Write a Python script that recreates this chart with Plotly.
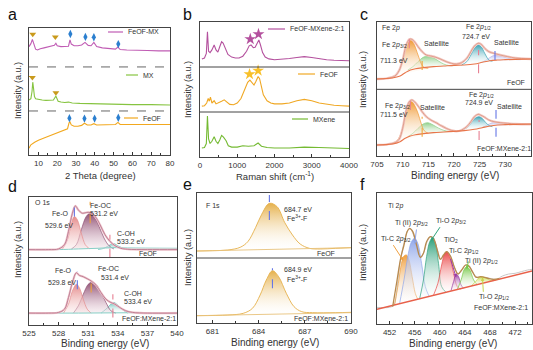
import plotly.graph_objects as go

# ======================= DATA =======================
# (a) XRD, 2-theta (degree) vs offset intensity (a.u.)
xrd_feof_x = [5, 6, 8, 10, 13, 16, 19, 22, 24, 25.5, 26.3, 26.8, 27.5, 29, 31, 33, 34.5, 36, 38, 39.5, 41, 44, 48, 51, 52.3, 53.5, 56, 60, 65, 70, 75, 80]
xrd_feof_y = [0.16, 0.24, 0.30, 0.35, 0.40, 0.45, 0.50, 0.55, 0.58, 0.62, 0.76, 0.78, 0.71, 0.68, 0.68, 0.70, 0.75, 0.71, 0.71, 0.74, 0.71, 0.71, 0.71, 0.72, 0.77, 0.72, 0.72, 0.72, 0.72, 0.72, 0.72, 0.72]
xrd_mx_x = [5, 6, 6.6, 7, 7.4, 7.9, 8.5, 10, 12, 14, 16, 18, 18.8, 19.3, 19.8, 20.5, 22, 24, 26, 28, 32, 40, 50, 60, 70, 80]
xrd_mx_y = [1.30, 1.33, 1.50, 1.72, 1.58, 1.38, 1.33, 1.31, 1.30, 1.29, 1.29, 1.30, 1.36, 1.39, 1.34, 1.27, 1.25, 1.24, 1.25, 1.23, 1.22, 1.21, 1.20, 1.19, 1.19, 1.18]
xrd_mix_x = [5, 6, 6.8, 7.5, 8.5, 9.5, 11, 13, 15, 17, 18.5, 19.3, 20, 22, 24, 26, 26.8, 27.5, 29, 31, 33, 34.8, 36.5, 38, 39.5, 41, 44, 48, 51, 52.3, 53.5, 57, 62, 68, 74, 80]
xrd_mix_y = [2.56, 2.63, 2.73, 2.62, 2.50, 2.48, 2.51, 2.53, 2.55, 2.56, 2.59, 2.64, 2.58, 2.56, 2.56, 2.57, 2.72, 2.62, 2.58, 2.58, 2.60, 2.66, 2.59, 2.58, 2.66, 2.56, 2.53, 2.52, 2.50, 2.55, 2.49, 2.48, 2.48, 2.47, 2.46, 2.46]
# phase markers (x, y)
xrd_gold_x = [7, 19, 6.8, 19.3]
xrd_gold_y = [2.85, 2.79, 1.83, 1.47]
xrd_blue_x = [27, 35, 39.5, 52.5, 26.5, 34.5, 39.9, 52.5]
xrd_blue_y = [2.86, 2.79, 2.78, 2.62, 0.87, 0.86, 0.86, 0.88]
xrd_dividers = [1.04, 2.08]

# (b) Raman shift (cm-1)
ram_mix_x = [50, 120, 170, 200, 230, 270, 320, 380, 430, 480, 530, 580, 620, 680, 750, 850, 950, 1050, 1150, 1250, 1320, 1370, 1430, 1480, 1530, 1580, 1620, 1680, 1750, 1850, 2000, 2200, 2400, 2600, 2800, 3000, 3200, 3400, 3600, 3800, 4000]
ram_mix_y = [2.18, 2.20, 2.30, 2.78, 2.35, 2.32, 2.38, 2.49, 2.38, 2.33, 2.45, 2.56, 2.53, 2.40, 2.28, 2.22, 2.20, 2.20, 2.24, 2.35, 2.47, 2.49, 2.43, 2.44, 2.54, 2.60, 2.50, 2.32, 2.22, 2.18, 2.16, 2.17, 2.19, 2.21, 2.23, 2.21, 2.18, 2.16, 2.15, 2.14, 2.14]
ram_feof_x = [50, 120, 180, 220, 250, 280, 320, 380, 430, 500, 580, 650, 720, 800, 900, 1000, 1100, 1200, 1280, 1340, 1400, 1450, 1500, 1560, 1600, 1650, 1700, 1800, 1900, 2000, 2200, 2400, 2600, 2800, 3000, 3200, 3400, 3600, 3800, 4000]
ram_feof_y = [1.13, 1.14, 1.20, 1.30, 1.24, 1.33, 1.20, 1.25, 1.18, 1.20, 1.24, 1.27, 1.22, 1.17, 1.16, 1.20, 1.30, 1.50, 1.66, 1.71, 1.66, 1.60, 1.68, 1.79, 1.74, 1.55, 1.38, 1.25, 1.20, 1.18, 1.18, 1.20, 1.25, 1.28, 1.25, 1.20, 1.17, 1.15, 1.14, 1.13]
ram_mx_x = [50, 120, 170, 200, 230, 270, 320, 380, 430, 480, 530, 580, 630, 700, 760, 850, 1000, 1150, 1300, 1450, 1560, 1650, 1800, 2000, 2400, 2800, 3200, 3600, 4000]
ram_mx_y = [0.20, 0.21, 0.30, 0.91, 0.40, 0.30, 0.35, 0.45, 0.35, 0.30, 0.38, 0.48, 0.44, 0.36, 0.25, 0.22, 0.22, 0.25, 0.24, 0.25, 0.31, 0.24, 0.21, 0.20, 0.20, 0.22, 0.21, 0.20, 0.19]
ram_star_mix_x = [1350, 1570]
ram_star_mix_y = [2.62, 2.73]
ram_star_feof_x = [1330, 1560]
ram_star_feof_y = [1.84, 1.92]
ram_dividers = [1.0, 2.0]

# (c) Fe 2p XPS, binding energy (eV)
c_bg_x = [705, 708, 709.5, 710.5, 711.5, 712.5, 714, 716, 718, 720, 722, 724, 725.5, 727, 728.5, 730, 732, 735]
c_bg_top = [231, 234, 240, 250, 258, 262, 265, 268, 270, 272, 273, 276, 281, 286, 288, 289, 290, 291]
c_bg_bot = [33, 36, 43, 53, 60, 64, 67, 70, 72, 74, 76, 80, 85, 90, 93, 94, 95, 96]
c_env_x = [705, 707, 708.5, 709.3, 710, 710.7, 711.3, 711.8, 712.3, 713, 713.8, 714.6, 715.5, 716.5, 717.5, 718.5, 719.5, 720.5, 721.5, 722.5, 723.3, 724, 724.7, 725.3, 726, 726.8, 727.8, 729, 730.5, 732, 735]
c_env_top = [231, 233, 240, 256, 288, 333, 350, 350, 343, 328, 313, 303, 300, 296, 290, 283, 278, 276, 280, 293, 313, 330, 338, 335, 323, 313, 308, 303, 298, 294, 291]
c_env_bot = [33, 35, 40, 50, 83, 138, 163, 168, 163, 150, 133, 118, 108, 100, 91, 83, 77, 74, 78, 88, 103, 118, 125, 122, 116, 108, 103, 100, 98, 96, 95]
c_p32_top_x = [708, 708.5, 709.3, 710, 710.7, 711.3, 711.8, 712.3, 713, 713.6, 714.2, 715]
c_p32_top_y = [238, 242, 256, 286, 328, 346, 346, 333, 303, 278, 265, 263]
c_sat1_top_x = [711, 712, 713, 714, 714.8, 715.6, 716.5, 717.5, 718.5, 719.5, 720.5]
c_sat1_top_y = [258, 268, 283, 296, 300, 298, 290, 280, 273, 271, 272]
c_p12_top_x = [721.5, 722.5, 723.3, 724, 724.7, 725.3, 726, 726.8, 727.5]
c_p12_top_y = [273, 283, 303, 323, 333, 328, 308, 288, 284]
c_sat2_top_x = [725.5, 726.5, 727.5, 728.3, 729.2, 730.2, 731.5, 733]
c_sat2_top_y = [281, 290, 300, 303, 300, 295, 290, 289]
c_p32_bot_x = [708, 709, 710, 710.7, 711.3, 711.8, 712.3, 713, 713.6, 714.2, 715]
c_p32_bot_y = [38, 48, 83, 133, 160, 163, 153, 128, 98, 76, 68]
c_sat1_bot_x = [711, 712, 713, 714, 714.8, 715.6, 716.5, 717.5, 718.5, 719.5]
c_sat1_bot_y = [58, 68, 83, 96, 100, 96, 88, 80, 75, 73]
c_p12_bot_x = [721.5, 722.5, 723.3, 724, 724.9, 725.5, 726.2, 727, 727.5]
c_p12_bot_y = [77, 85, 98, 112, 118, 113, 100, 90, 88]
c_sat2_bot_x = [725.5, 726.5, 727.5, 728.3, 729.2, 730.2, 731.5, 733]
c_sat2_bot_y = [85, 93, 100, 102, 100, 97, 95, 95]
# peak-position guide marks: (x, y0, y1, colour key)
c_marks = [(711.3, 323, 368, 'pink'), (713.8, 258, 308, 'orange'), (724.8, 248, 318, 'pink'), (728.0, 288, 343, 'blue'),
           (711.5, 138, 178, 'pink'), (713.8, 58, 118, 'orange'), (724.9, 48, 108, 'pink'), (728.2, 58, 138, 'blue')]
c_divider = 200

# (d) O 1s XPS
d_bg_top_x = [525, 528, 530, 532, 533.5, 535, 540]
d_bg_top_y = [228, 228, 230, 232, 234, 233, 232]
d_env_top_x = [525, 527, 528, 528.6, 529, 529.4, 529.7, 530, 530.4, 530.8, 531.2, 531.7, 532.2, 532.7, 533.2, 533.7, 534.3, 535, 537, 540]
d_env_top_y = [228, 228, 230, 243, 283, 338, 360, 348, 338, 340, 340, 328, 303, 273, 253, 240, 232, 229, 228, 228]
d_feo_top_x = [528.4, 528.9, 529.3, 529.6, 529.9, 530.3, 530.7, 531.1]
d_feo_top_y = [230, 258, 308, 328, 318, 278, 243, 231]
d_feoc_top_x = [529.3, 529.8, 530.3, 530.8, 531.2, 531.6, 532.1, 532.6, 533.1, 533.6]
d_feoc_top_y = [230, 243, 288, 328, 338, 328, 298, 263, 240, 230]
d_coh_top_x = [532, 532.6, 533.2, 533.6, 534.1, 534.7, 535.3]
d_coh_top_y = [228, 232, 242, 246, 238, 231, 228]
d_bg_bot_x = [525, 530, 535, 540]
d_bg_bot_y = [36, 36, 37, 38]
d_env_bot_x = [525, 527, 528, 528.6, 529, 529.4, 529.8, 530.1, 530.5, 530.9, 531.3, 531.8, 532.3, 532.8, 533.3, 533.7, 534.2, 534.8, 535.5, 537, 540]
d_env_bot_y = [36, 36, 38, 48, 83, 128, 158, 150, 146, 140, 133, 120, 98, 78, 68, 63, 53, 43, 38, 36, 36]
d_feo_bot_x = [528.5, 529, 529.4, 529.8, 530.1, 530.5, 530.9, 531.3]
d_feo_bot_y = [36, 63, 103, 123, 113, 78, 48, 36]
d_feoc_bot_x = [529.5, 530, 530.5, 531, 531.4, 531.8, 532.3, 532.8, 533.3, 533.8]
d_feoc_bot_y = [36, 58, 93, 123, 130, 123, 98, 68, 43, 36]
d_coh_bot_x = [532.3, 532.8, 533.3, 533.6, 534, 534.5, 535]
d_coh_bot_y = [36, 48, 63, 68, 60, 46, 36]
d_marks = [(529.6, 328, 368, 'blue'), (531.2, 308, 373, 'orange'), (533.2, 203, 273, 'pink'),
           (529.9, 108, 163, 'blue'), (531.3, 98, 153, 'orange'), (533.5, 23, 93, 'pink')]
d_divider = 204

# (e) F 1s XPS
e_top_x = [680, 681, 682, 682.8, 683.3, 683.8, 684.2, 684.7, 685.2, 685.7, 686.2, 686.7, 687.3, 688, 689, 690]
e_top_y = [216, 217, 219, 227, 244, 286, 326, 359, 349, 301, 264, 237, 224, 222, 224, 226]
e_bg_top_x = [680, 684, 687, 690]
e_bg_top_y = [216, 220, 223, 226]
e_bot_x = [680, 682, 683, 683.6, 684.1, 684.5, 684.9, 685.3, 685.8, 686.3, 686.8, 687.5, 689, 690]
e_bot_y = [22, 24, 29, 44, 84, 129, 157, 139, 89, 49, 34, 31, 31, 32]
e_bg_bot_x = [680, 684, 687, 690]
e_bg_bot_y = [22, 26, 29, 31]
e_marks = [(684.7, 309, 384, 'blue'), (684.9, 104, 164, 'blue')]
e_divider = 195

# (f) Ti 2p XPS
f_bg_x = [450, 474.7]
f_bg_y = [44, 159]
f_raw_x = [450, 451, 452, 452.7, 453.1, 453.5, 454, 454.5, 455, 455.4, 455.9, 456.5, 457, 457.5, 458, 458.6, 459.1, 459.7, 460.2, 460.7, 461.2, 461.8, 462.4, 463, 463.6, 464.2, 464.7, 465.3, 466, 467, 468, 469, 470, 471, 472, 473, 474, 474.7]
f_raw_y = [50, 49, 50, 57, 92, 162, 217, 257, 284, 284, 262, 224, 200, 217, 247, 262, 254, 217, 194, 207, 217, 200, 167, 150, 164, 177, 174, 154, 140, 140, 137, 134, 144, 150, 152, 157, 162, 164]
f_env_x = [452.5, 453.2, 453.8, 454.3, 454.8, 455.2, 455.7, 456.3, 456.9, 457.4, 457.9, 458.5, 459, 459.6, 460.1, 460.6, 461.1, 461.7, 462.3, 462.9, 463.5, 464.1, 464.6, 465.2, 465.8, 466.5, 467.5, 468.5, 469.5]
f_env_y = [52, 132, 200, 237, 277, 287, 277, 237, 200, 212, 247, 262, 257, 222, 194, 207, 217, 204, 172, 150, 162, 177, 175, 157, 140, 142, 138, 134, 136]
f_comp = {
    'TiC32': ([452.8, 453.4, 453.9, 454.3, 454.7, 455.1, 455.6, 456.1, 456.5], [57, 122, 182, 204, 207, 192, 142, 92, 74]),
    'TiII32': ([453.6, 454.3, 455, 455.5, 456, 456.5, 457.1, 457.7, 458.3], [61, 132, 212, 247, 257, 242, 182, 112, 83]),
    'TiO32': ([456.8, 457.4, 457.9, 458.4, 458.8, 459.3, 459.8, 460.3, 461], [76, 132, 202, 247, 257, 242, 182, 112, 95]),
    'TiO2': ([459, 459.7, 460.3, 460.8, 461.1, 461.6, 462.2, 462.8, 463.3], [86, 122, 177, 212, 217, 202, 152, 112, 105]),
    'TiC12': ([461.8, 462.2, 462.6, 463, 463.4, 463.8], [100, 127, 150, 142, 117, 107]),
    'TiII12': ([462.8, 463.4, 463.9, 464.3, 464.8, 465.4, 466], [104, 132, 164, 172, 162, 132, 118]),
    'TiO12': ([465, 465.7, 466.3, 466.8, 467.4, 468.2, 469], [114, 127, 140, 142, 137, 130, 132]),
}
f_colors = {'TiC32': '#f0a040', 'TiII32': '#8fa6ea', 'TiO32': '#2fa27c', 'TiO2': '#ea4a4a',
            'TiC12': '#9a3aa4', 'TiII12': '#78c84a', 'TiO12': '#c8d64a'}

# ======================= FIGURE =======================
W, H = 533, 350
FONT = "Arial, Liberation Sans, Helvetica, sans-serif"
def X(p): return p / W
def Y(p): return 1 - p / H

MARK_COL = {'pink': '#e77f92', 'orange': '#f0a53a', 'blue': '#6677e6'}

panels = [
    # name, x-domain px, y-domain px (top, bottom), x range, y range, tick0, dtick, minor dtick
    ('a', (29, 170), (28, 155), [5, 80], [0, 3], 0, 10, 5),
    ('b', (200, 349), (22, 157), [0, 4000], [0, 3], 0, 1000, 500),
    ('c', (377, 531), (22, 156), [705, 735.02], [0, 402], 705, 5, 2.5),
    ('d', (29, 177), (197, 325), [525, 540], [0, 387], 525, 3, 1.5),
    ('e', (197, 351), (193, 323), [680, 690], [0, 390], 681, 3, 1.5),
    ('f', (377, 532), (193, 324), [450, 474.7], [0, 393], 452, 4, 2),
]
AX = {}
layout = dict(width=W, height=H, margin=dict(l=0, r=0, t=0, b=0), paper_bgcolor='white',
              plot_bgcolor='white', showlegend=False, font=dict(family=FONT, size=7, color='#333'))
for i, (nm, xd, yd, xr, yr, t0, dt, mdt) in enumerate(panels):
    k = '' if i == 0 else str(i + 1)
    AX[nm] = ('x' + k, 'y' + k)
    layout['xaxis' + k] = dict(domain=[X(xd[0]), X(xd[1])], range=xr, anchor='y' + k, tick0=t0, dtick=dt,
                               ticks='inside', ticklen=3, tickwidth=0.8, tickcolor='#333', showline=True,
                               linecolor='#444', linewidth=1, mirror=True, showgrid=False, zeroline=False,
                               tickfont=dict(size=8, color='#333', family=FONT),
                               minor=dict(ticks='inside', ticklen=1.8, dtick=mdt, tick0=t0, tickcolor='#333', showgrid=False),
                               automargin=False, fixedrange=True)
    layout['yaxis' + k] = dict(domain=[Y(yd[1]), Y(yd[0])], range=yr, anchor='x' + k, showticklabels=False,
                               ticks='', showline=True, linecolor='#444', linewidth=1, mirror=True,
                               showgrid=False, zeroline=False, automargin=False, fixedrange=True)

fig = go.Figure(layout=layout)

def line(nm, xs, ys, color, width=1.0, shape='linear', dash=None):
    xa, ya = AX[nm]
    fig.add_trace(go.Scatter(x=xs, y=ys, xaxis=xa, yaxis=ya, mode='lines', hoverinfo='skip',
                             line=dict(color=color, width=width, shape=shape, dash=dash)))

def peak(nm, xs, ys, color, base='rgba(255,255,255,0.15)', lw=0.7):
    xa, ya = AX[nm]
    fig.add_trace(go.Scatter(x=xs, y=ys, xaxis=xa, yaxis=ya, mode='lines', fill='toself', hoverinfo='skip',
                             line=dict(color=color, width=lw, shape='spline'),
                             fillgradient=dict(type='vertical', colorscale=[[0, base], [1, color]])))

def marks(nm, mlist):
    xa, ya = AX[nm]
    for (xv, y0, y1, c) in mlist:
        fig.add_trace(go.Scatter(x=[xv, xv], y=[y0, y1], xaxis=xa, yaxis=ya, mode='lines', hoverinfo='skip',
                                 line=dict(color=MARK_COL[c], width=1.1, dash='dash')))

shapes = []
annots = []

def hline(nm, yv, color='#444', dash=None, width=1):
    xa, ya = AX[nm]
    shapes.append(dict(type='line', xref=xa + ' domain', yref=ya, x0=0, x1=1, y0=yv, y1=yv,
                       line=dict(color=color, width=width, dash=dash)))

def txt(t, x, y, size=7, color='#333', xanchor='left', angle=0, yanchor='middle'):
    annots.append(dict(text=t, x=X(x), y=Y(y), xref='paper', yref='paper', showarrow=False,
                       xanchor=xanchor, yanchor=yanchor, textangle=angle,
                       font=dict(size=size, color=color, family=FONT)))

def legend_sample(x0, x1, y, color, label, size=7):
    shapes.append(dict(type='line', xref='paper', yref='paper', x0=X(x0), x1=X(x1), y0=Y(y), y1=Y(y),
                       line=dict(color=color, width=1.2)))
    txt(label, x1 + 3, y, size=size)

# ---- (a) ----
C_MIX, C_MX, C_FEOF = '#c05cb4', '#86c440', '#f2a81e'
for yv in xrd_dividers:
    hline('a', yv, color='#666', dash='dash', width=1)
line('a', xrd_feof_x, xrd_feof_y, C_FEOF, 1.1)
line('a', xrd_mx_x, xrd_mx_y, C_MX, 1.1)
line('a', xrd_mix_x, xrd_mix_y, C_MIX, 1.1)
fig.add_trace(go.Scatter(x=xrd_gold_x, y=xrd_gold_y, xaxis='x', yaxis='y', mode='markers', hoverinfo='skip',
                         marker=dict(symbol='triangle-down', size=6, color='#c99a1c')))
fig.add_trace(go.Scatter(x=xrd_blue_x, y=xrd_blue_y, xaxis='x', yaxis='y', mode='markers', hoverinfo='skip',
                         marker=dict(symbol='diamond-tall', size=6, color='#2b7fcf')))
legend_sample(108, 123, 32, C_MIX, 'FeOF-MX')
legend_sample(126, 138, 75, C_MX, 'MX')
legend_sample(124, 138, 118, C_FEOF, 'FeOF')

# ---- (b) ----
R_MIX, R_FEOF, R_MX = '#b4519e', '#f0a824', '#74ba32'
for yv in ram_dividers:
    hline('b', yv, color='#444', width=1)
line('b', ram_mix_x, ram_mix_y, R_MIX, 1.1)
line('b', ram_feof_x, ram_feof_y, R_FEOF, 1.1)
line('b', ram_mx_x, ram_mx_y, R_MX, 1.1)
fig.add_trace(go.Scatter(x=ram_star_mix_x, y=ram_star_mix_y, xaxis='x2', yaxis='y2', mode='markers', hoverinfo='skip',
                         marker=dict(symbol='star', size=9, color='#b4519e')))
fig.add_trace(go.Scatter(x=ram_star_feof_x, y=ram_star_feof_y, xaxis='x2', yaxis='y2', mode='markers', hoverinfo='skip',
                         marker=dict(symbol='star', size=9, color='#f8c02a')))
legend_sample(268, 285, 29, R_MIX, 'FeOF-MXene-2:1')
legend_sample(298, 315, 74, R_FEOF, 'FeOF')
legend_sample(292, 308, 119, R_MX, 'MXene')

# ---- (c) ----
hline('c', c_divider)
peak('c', c_sat1_top_x, c_sat1_top_y, '#8fd08a')
peak('c', c_p32_top_x, c_p32_top_y, '#f09a36')
peak('c', c_sat2_top_x, c_sat2_top_y, '#b9b9ec')
peak('c', c_p12_top_x, c_p12_top_y, '#3aa3b4')
peak('c', c_sat1_bot_x, c_sat1_bot_y, '#8fd08a')
peak('c', c_p32_bot_x, c_p32_bot_y, '#f09a36')
peak('c', c_sat2_bot_x, c_sat2_bot_y, '#b9b9ec')
peak('c', c_p12_bot_x, c_p12_bot_y, '#3aa3b4')
for ys in (c_env_top, c_env_bot):
    line('c', c_env_x, ys, '#f3c9c4', 2.4, 'spline')
    line('c', c_env_x, ys, '#dc9a86', 0.9, 'spline')
line('c', c_bg_x, c_bg_top, '#e8754a', 1.1, 'spline')
line('c', c_bg_x, c_bg_bot, '#e8754a', 1.1, 'spline')
marks('c', c_marks)

# ---- (d) ----
hline('d', d_divider)
peak('d', d_coh_top_x, d_coh_top_y, '#62c0b8')
peak('d', d_feoc_top_x, d_feoc_top_y, '#8e4e72', base='rgba(240,220,228,0.4)')
peak('d', d_feo_top_x, d_feo_top_y, '#e58c8c', base='rgba(250,230,230,0.4)')
peak('d', d_coh_bot_x, d_coh_bot_y, '#62c0b8')
peak('d', d_feoc_bot_x, d_feoc_bot_y, '#8e4e72', base='rgba(240,220,228,0.4)')
peak('d', d_feo_bot_x, d_feo_bot_y, '#e58c8c', base='rgba(250,230,230,0.4)')
line('d', d_bg_top_x, d_bg_top_y, '#86cfc6', 1.0, 'spline')
line('d', d_bg_bot_x, d_bg_bot_y, '#86cfc6', 1.0, 'spline')
for xs, ys in ((d_env_top_x, d_env_top_y), (d_env_bot_x, d_env_bot_y)):
    line('d', xs, ys, '#efc4cc', 2.2, 'spline')
    line('d', xs, ys, '#b9788e', 0.9, 'spline')
marks('d', d_marks)

# ---- (e) ----
hline('e', e_divider)
peak('e', e_top_x, e_top_y, '#e5b04a', base='rgba(255,255,255,0.1)', lw=0.9)
peak('e', e_bot_x, e_bot_y, '#e5b04a', base='rgba(255,255,255,0.1)', lw=0.9)
line('e', e_bg_top_x, e_bg_top_y, '#e8c27a', 0.9)
line('e', e_bg_bot_x, e_bg_bot_y, '#e8c27a', 0.9)
marks('e', e_marks)

# ---- (f) ----
line('f', f_raw_x, f_raw_y, '#c8c8c8', 1.0, 'spline')
for key in ['TiC32', 'TiII32', 'TiO32', 'TiO2', 'TiC12', 'TiII12', 'TiO12']:
    xs, ys = f_comp[key]
    peak('f', xs, ys, f_colors[key])
line('f', f_bg_x, f_bg_y, '#e8604a', 1.4)
line('f', f_env_x, f_env_y, '#b98a4e', 1.3, 'spline')

# arrows in (f): head in data coords, tail offsets in px
f_arrows = [(454.2, 190, -11, -17, '#f0a040'), (456.0, 240, 2, -16, '#8fa6ea'), (458.6, 250, 10, -15, '#2fa27c'),
            (462.6, 140, -6, -20, '#9a3aa4'), (464.3, 165, 2, -9, '#78c84a'), (466.8, 140, 1, 16, '#c8d64a')]
for hx, hy, axo, ayo, col in f_arrows:
    annots.append(dict(x=hx, y=hy, xref='x6', yref='y6', ax=axo, ay=ayo, text='', showarrow=True,
                       arrowhead=2, arrowsize=0.7, arrowwidth=1, arrowcolor=col))

# ---- texts ----
for letter, x, y in [('a', 6, 14), ('b', 181, 14), ('c', 358, 14), ('d', 6, 186), ('e', 181, 184), ('f', 358, 184)]:
    txt(letter, x, y, size=16, color='#111')

for x, y in [(18, 91), (188, 90), (363, 80), (18, 250), (188, 258), (363, 253)]:
    txt('Intensity (a.u.)', x, y, size=9, xanchor='center', angle=-90)

txt('2 Theta (degree)', 100, 175.5, size=9.5, xanchor='center')
txt('Raman shift (cm<sup>-1</sup>)', 275, 175.5, size=9.5, xanchor='center')
txt('Binding energy (eV)', 455, 175.5, size=10, xanchor='center')
txt('Binding energy (eV)', 105, 343, size=10, xanchor='center')
txt('Binding energy (eV)', 275, 342, size=10, xanchor='center')
txt('Binding energy (eV)', 453, 343, size=10, xanchor='center')

# (c)
for t, x, y in [('Fe 2<i>p</i>', 380, 28), ('Fe 2<i>p</i><sub>3/2</sub>', 380, 45), ('711.3 eV', 378, 60),
                ('Satellite', 422, 43), ('Fe 2<i>p</i><sub>1/2</sub>', 464, 27), ('724.7 eV', 460, 36),
                ('Satellite', 492, 42), ('FeOF', 505, 83), ('Fe 2<i>p</i><sub>3/2</sub>', 383, 106),
                ('711.5 eV', 378, 115), ('Satellite', 418, 107), ('Fe 2<i>p</i><sub>1/2</sub>', 467, 95),
                ('724.9 eV', 463, 103), ('Satellite', 495, 106), ('FeOF:MXene-2:1', 475, 148)]:
    txt(t, x, y)
# (d)
for t, x, y in [('O 1s', 33, 202), ('Fe-O', 50, 213), ('529.6 eV', 43, 225), ('Fe-OC', 88, 205),
                ('531.2 eV', 88, 213), ('C-OH', 115, 233), ('533.2 eV', 115, 241), ('FeOF', 137, 253),
                ('Fe-O', 53, 270), ('529.8 eV', 46, 282), ('Fe-OC', 96, 268), ('531.4 eV', 99, 277),
                ('C-OH', 122, 293), ('533.4 eV', 122, 301), ('FeOF:MXene-2:1', 120, 318)]:
    txt(t, x, y)
# (e)
for t, x, y in [('F 1s', 204, 206), ('684.7 eV', 282, 209), ('Fe<sup>3+</sup>-F', 285, 218), ('FeOF', 315, 253),
                ('684.9 eV', 282, 269), ('Fe<sup>3+</sup>-F', 285, 279), ('FeOF:MXene-2:1', 292, 318)]:
    txt(t, x, y)
# (f)
for t, x, y in [('Ti 2<i>p</i>', 386, 206), ('Ti (II) 2<i>p</i><sub>3/2</sub>', 393, 223),
                ('Ti-O 2<i>p</i><sub>3/2</sub>', 434, 221), ('Ti-C 2<i>p</i><sub>3/2</sub>', 379, 239),
                ('TiO<sub>2</sub>', 442, 240), ('Ti-C 2<i>p</i><sub>1/2</sub>', 447, 251),
                ('Ti (II) 2<i>p</i><sub>1/2</sub>', 463, 261), ('Ti-O 2<i>p</i><sub>1/2</sub>', 477, 297),
                ('FeOF:MXene-2:1', 472, 307)]:
    txt(t, x, y)

fig.update_layout(shapes=shapes, annotations=annots)
fig.write_html("out.html")
